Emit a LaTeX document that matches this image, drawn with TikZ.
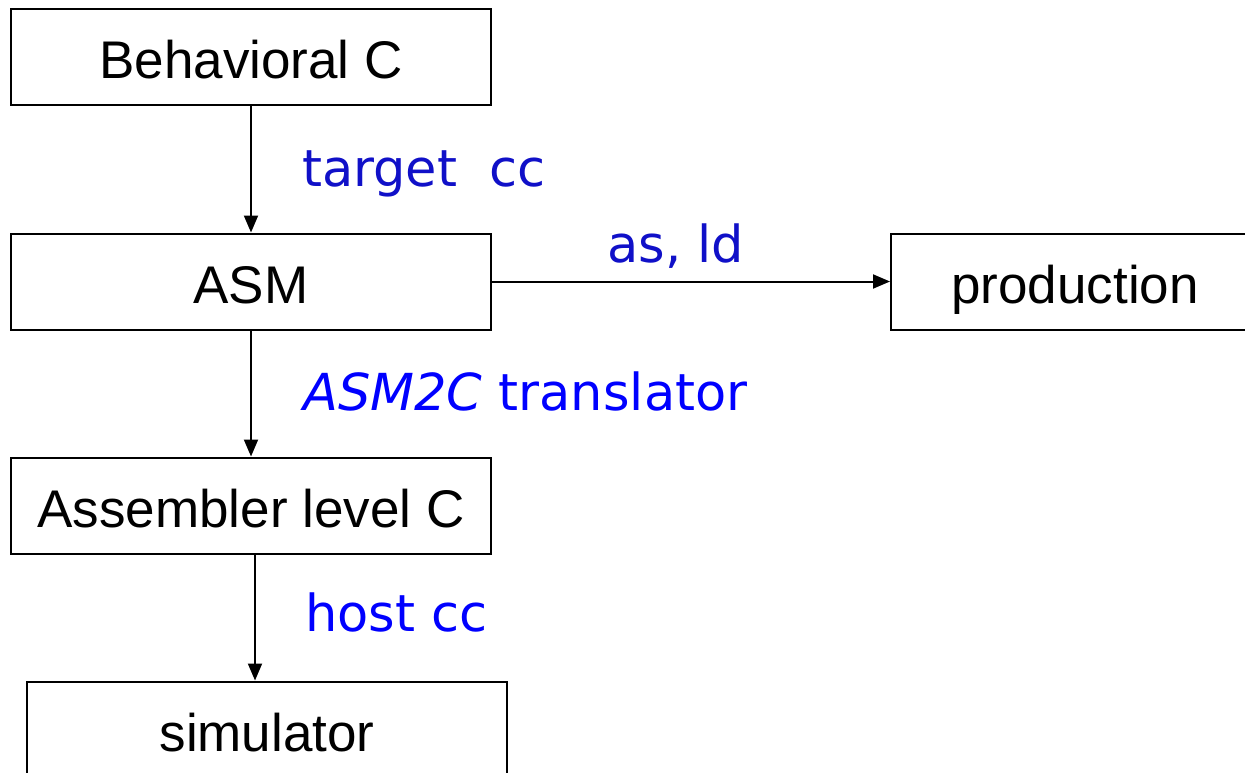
\documentclass[tikz,border=0pt]{standalone}
\usepackage{fontspec}
\setmainfont{Liberation Sans}
\newfontfamily\lblfont{DejaVu Sans}
\usetikzlibrary{arrows.meta}
\definecolor{lblA}{RGB}{16,16,200}
\definecolor{lblB}{RGB}{0,0,255}
\tikzset{
  box/.style={draw=black, line width=2pt, minimum width=480pt, minimum height=96pt, inner sep=0pt, text height=44pt, text depth=0pt, font=\fontsize{53}{60}\selectfont},
  arr/.style={line width=2pt, -{Triangle[length=17pt,width=14pt]}},
  lbl/.style={anchor=base west, inner sep=0pt, font=\lblfont\fontsize{51}{58}\selectfont}
}
\begin{document}
\begin{tikzpicture}[x=1pt,y=-1pt]
\useasboundingbox (0,0) rectangle (1245,773);
\clip (0,0) rectangle (1245,773);
\fill[white] (0,0) rectangle (1245,773);
\node[box] (beh) at (251,57) {Behavioral C};
\node[box] (asm) at (251,281.5) {ASM};
\node[box, minimum width=368pt] (prod) at (1075,281.5) {production};
\node[box] (alc) at (251,505.5) {Assembler level C};
\node[box] (sim) at (267,729.5) {simulator};
\draw[arr] (beh.south) -- (asm.north);
\draw[arr] (asm.east) -- (prod.west);
\draw[arr] (asm.south) -- (alc.north);
\draw[arr] ([xshift=4pt]alc.south) -- ([xshift=4pt]alc.south |- sim.north);
\node[lbl, text=lblA] (l1) at (302,186) {target\ \ cc};
\node[lbl, text=lblA] (l2) at (607,262) {as, ld};
\node[lbl, text=lblB] (l3) at (303,410) {\itshape ASM2C\upshape\ translator};
\node[lbl, text=lblB] (l4) at (305,631) {host cc};
\end{tikzpicture}
\end{document}
